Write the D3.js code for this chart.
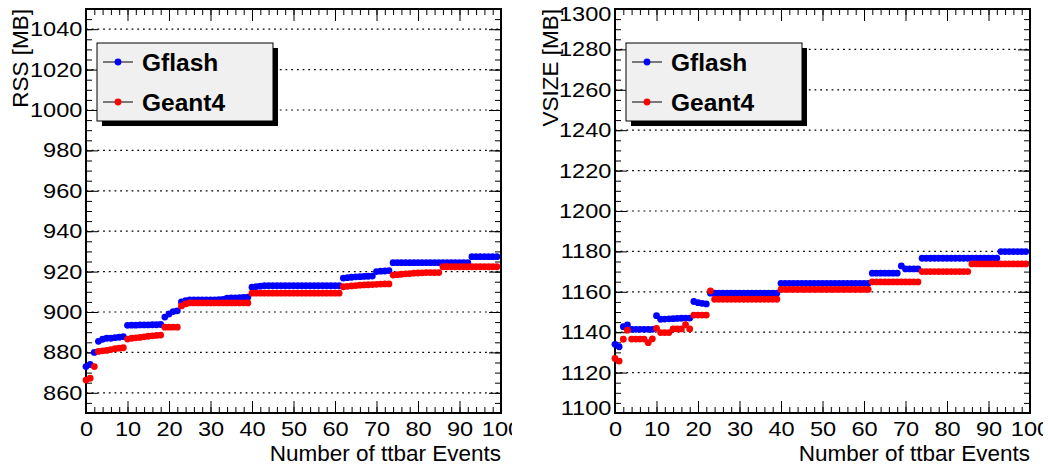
<!DOCTYPE html>
<meta charset="utf-8">
<style>
 body {
   margin: 0;
   background-color: #fff;
 }

 svg {
   font-family: "Liberation Sans", Arial, sans-serif;
 }

 .tick text {
   font-size: 20px;
   fill: #000;
 }

 .tick line {
   stroke: #000;
   stroke-width: 1;
 }

 .grid line {
   stroke: #000;
   stroke-width: 1.2;
   stroke-dasharray: 1.8, 3.9;
 }

 .frame {
   fill: none;
   stroke: #000;
   stroke-width: 2;
 }

 .title {
   font-size: 22.5px;
   fill: #000;
 }

 .legend text {
   font-size: 24.5px;
   font-weight: bold;
   fill: #000;
 }
</style>

<svg width="1048" height="467"></svg>

<script src="https://cdn.jsdelivr.net/npm/d3@7/dist/d3.min.js"></script>
<script>

 // memory after each ttbar event (event index = position in array)
 var seriesNames = ['Gflash', 'Geant4']
 var seriesColors = ['#0000ff', '#ff0000']

 var rssGflash = [
   873, 874, 880, 885.5, 886.5, 887, 887, 887.3, 887.5, 887.8,
   893.4, 893.5, 893.5, 893.6, 893.6, 893.6, 893.7, 893.7, 893.8,
   897.5, 899, 900.2, 900.6,
   905, 905.6, 906, 906, 906, 906, 906, 906, 906, 906.1, 906.2, 906.8, 907, 907, 907.1, 907.2, 907.3,
   912.3, 912.6, 912.8, 913, 913, 913, 913, 913, 913, 913, 913, 913, 913, 913, 913, 913, 913, 913, 913, 913, 913, 913,
   916.8, 917, 917.2, 917.4, 917.5, 917.6, 917.7, 917.8,
   920, 920.2, 920.3, 920.5,
   924.4, 924.4, 924.4, 924.4, 924.4, 924.4, 924.4, 924.4, 924.4, 924.4, 924.4, 924.4, 924.4, 924.4, 924.4, 924.4, 924.4, 924.4, 924.4,
   927.4, 927.4, 927.4, 927.4, 927.4, 927.4, 927.4
 ]

 var rssGeant4 = [
   866.3, 867.2, 873, 880.5, 880.8, 881, 881.4, 881.8, 882.1, 882.3,
   886.6, 887, 887.2, 887.4, 887.7, 888, 888.2, 888.4, 888.6,
   892.5, 892.5, 892.5, 892.5,
   903, 904, 904.5, 904.5, 904.5, 904.5, 904.5, 904.5, 904.5, 904.5, 904.5, 904.5, 904.5, 904.5, 904.5, 904.5, 904.5,
   909.3, 909.3, 909.3, 909.3, 909.3, 909.3, 909.3, 909.3, 909.3, 909.3, 909.3, 909.3, 909.3, 909.3, 909.3, 909.3, 909.3, 909.3, 909.3, 909.3, 909.3, 909.3,
   912.5, 912.7, 912.9, 913.1, 913.3, 913.4, 913.5, 913.6, 913.7, 913.8, 913.9, 913.9,
   918.3, 918.5, 918.7, 918.9, 919, 919.2, 919.3, 919.4, 919.5, 919.5, 919.5, 919.5,
   922.4, 922.4, 922.4, 922.4, 922.4, 922.4, 922.4, 922.4, 922.4, 922.4, 922.4, 922.4, 922.4, 922.4
 ]

 var vsizeGflash = [
   1134, 1132.8, 1142.7, 1143.6,
   1141.4, 1141.4, 1141.4, 1141.4, 1141.4, 1141.4,
   1148.2, 1146.4, 1146.5, 1146.6, 1146.7, 1146.8, 1146.9, 1147, 1147,
   1155.2, 1154.6, 1154.3, 1154,
   1159.3, 1159.3, 1159.3, 1159.3, 1159.3, 1159.3, 1159.3, 1159.3, 1159.3, 1159.3, 1159.3, 1159.3, 1159.3, 1159.3, 1159.3, 1159.3, 1159.3,
   1164.2, 1164.2, 1164.2, 1164.2, 1164.2, 1164.2, 1164.2, 1164.2, 1164.2, 1164.2, 1164.2, 1164.2, 1164.2, 1164.2, 1164.2, 1164.2, 1164.2, 1164.2, 1164.2, 1164.2, 1164.2, 1164.2,
   1169.2, 1169.2, 1169.2, 1169.2, 1169.2, 1169.2, 1169.2,
   1172.8, 1171.3, 1171.3, 1171.3, 1171.3,
   1176.6, 1176.6, 1176.6, 1176.6, 1176.6, 1176.6, 1176.6, 1176.6, 1176.6, 1176.6, 1176.6, 1176.6, 1176.6, 1176.6, 1176.6, 1176.6, 1176.6, 1176.6, 1176.6,
   1179.9, 1179.9, 1179.9, 1179.9, 1179.9, 1179.9, 1179.9
 ]

 var vsizeGeant4 = [
   1127, 1125.7, 1136.5, 1141,
   1136.6, 1136.6, 1136.6, 1136.6, 1134.8, 1136.7,
   1141.9, 1139.8, 1139.8, 1139.8, 1141.6, 1141.6, 1141.6, 1143.7, 1141.6,
   1148.5, 1148.5, 1148.5, 1148.5,
   1160.5, 1156.3, 1156.3, 1156.3, 1156.3, 1156.3, 1156.3, 1156.3, 1156.3, 1156.3, 1156.3, 1156.3, 1156.3, 1156.3, 1156.3, 1156.3, 1156.3,
   1161.2, 1161.2, 1161.2, 1161.2, 1161.2, 1161.2, 1161.2, 1161.2, 1161.2, 1161.2, 1161.2, 1161.2, 1161.2, 1161.2, 1161.2, 1161.2, 1161.2, 1161.2, 1161.2, 1161.2, 1161.2, 1161.2,
   1164.9, 1164.9, 1164.9, 1164.9, 1164.9, 1164.9, 1164.9, 1164.9, 1164.9, 1164.9, 1164.9, 1164.9,
   1170, 1170, 1170, 1170, 1170, 1170, 1170, 1170, 1170, 1170, 1170, 1170,
   1173.8, 1173.8, 1173.8, 1173.8, 1173.8, 1173.8, 1173.8, 1173.8, 1173.8, 1173.8, 1173.8, 1173.8, 1173.8, 1173.8
 ]

 var xDomain = [0, 100]
 var xTitle = 'Number of ttbar Events'

 var svg = d3.select('svg')

 drawPanel({
   id: 'rss',
   clip: [0, 512],
   left: 86, right: 501, top: 9, bottom: 413,
   yDomain: [850, 1050],
   yTitle: 'RSS [MB]',
   titleX: 28,
   series: [rssGflash, rssGeant4]
 })

 drawPanel({
   id: 'vsize',
   clip: [524, 1043],
   left: 615, right: 1030, top: 9, bottom: 413,
   yDomain: [1100, 1300],
   yTitle: 'VSIZE [MB]',
   titleX: 558,
   series: [vsizeGflash, vsizeGeant4]
 })

 function drawPanel(cfg) {
   svg.append('clipPath')
      .attr('id', 'clip-' + cfg.id)
      .append('rect')
      .attr('x', cfg.clip[0])
      .attr('y', 0)
      .attr('width', cfg.clip[1] - cfg.clip[0])
      .attr('height', 467)

   var g = svg.append('g')
              .attr('clip-path', 'url(#clip-' + cfg.id + ')')

   var x = d3.scaleLinear().domain(xDomain).range([cfg.left, cfg.right])
   var y = d3.scaleLinear().domain(cfg.yDomain).range([cfg.bottom, cfg.top])
   var fmt = d3.format('d')

   // dotted horizontal grid at the major ticks
   g.append('g')
    .attr('class', 'grid')
    .selectAll('line')
    .data(y.ticks(10))
    .join('line')
    .attr('x1', cfg.left)
    .attr('x2', cfg.right)
    .attr('y1', d => y(d))
    .attr('y2', d => y(d))

   // inward ticks on all four sides
   g.append('g')
    .attr('transform', `translate(0,${cfg.bottom})`)
    .call(d3.axisBottom(x).ticks(10, 'd').tickSize(-12).tickPadding(9))
   g.append('g')
    .attr('transform', `translate(0,${cfg.bottom})`)
    .call(d3.axisBottom(x).ticks(50).tickSize(-6).tickFormat(''))
   g.append('g')
    .attr('transform', `translate(0,${cfg.top})`)
    .call(d3.axisTop(x).ticks(10).tickSize(-12).tickFormat(''))
   g.append('g')
    .attr('transform', `translate(0,${cfg.top})`)
    .call(d3.axisTop(x).ticks(50).tickSize(-6).tickFormat(''))

   var leftAxis = g.append('g')
                   .attr('transform', `translate(${cfg.left},0)`)
                   .call(d3.axisLeft(y).ticks(10).tickFormat(fmt).tickSize(-12).tickPadding(3))
   g.append('g')
    .attr('transform', `translate(${cfg.left},0)`)
    .call(d3.axisLeft(y).ticks(40).tickSize(-6).tickFormat(''))
   g.append('g')
    .attr('transform', `translate(${cfg.right},0)`)
    .call(d3.axisRight(y).ticks(10).tickSize(-12).tickFormat(''))
   g.append('g')
    .attr('transform', `translate(${cfg.right},0)`)
    .call(d3.axisRight(y).ticks(40).tickSize(-6).tickFormat(''))

   g.selectAll('.domain').remove()
   // the tick label font in the original is a little wider than Arial
   g.selectAll('.tick text')
    .attr('font-family', null)
    .attr('font-size', null)
    .attr('transform', 'scale(1.18,1)')

   // labels at the very ends of the y range are pulled inside
   leftAxis.selectAll('.tick text')
           .attr('dy', d => d === cfg.yDomain[1] ? '0.57em' : d === cfg.yDomain[0] ? '0.08em' : '0.32em')

   g.append('rect')
    .attr('class', 'frame')
    .attr('x', cfg.left)
    .attr('y', cfg.top)
    .attr('width', cfg.right - cfg.left)
    .attr('height', cfg.bottom - cfg.top)

   // axis titles
   g.append('text')
    .attr('class', 'title')
    .attr('text-anchor', 'end')
    .attr('x', cfg.right)
    .attr('y', 461)
    .text(xTitle)

   g.append('text')
    .attr('class', 'title')
    .attr('text-anchor', 'end')
    .attr('transform', `translate(${cfg.titleX},${cfg.top}) rotate(-90)`)
    .text(cfg.yTitle)

   // markers, Gflash first then Geant4 on top
   cfg.series.forEach(function (values, i) {
     g.append('g')
      .attr('fill', seriesColors[i])
      .selectAll('circle')
      .data(values)
      .join('circle')
      .attr('cx', (d, k) => x(k))
      .attr('cy', d => y(d))
      .attr('r', 3.4)
   })

   // legend box with drop shadow
   var lx = cfg.left + 11, ly = 43, lw = 176, lh = 78
   var legend = g.append('g').attr('class', 'legend')
   legend.append('rect')
         .attr('x', lx + 5).attr('y', ly + 5)
         .attr('width', lw).attr('height', lh)
         .attr('fill', '#000')
   legend.append('rect')
         .attr('x', lx).attr('y', ly)
         .attr('width', lw).attr('height', lh)
         .attr('fill', '#f0f0f0')
         .attr('stroke', '#000')
         .attr('stroke-width', 1)

   var entry = legend.selectAll('g.entry')
                     .data(seriesNames)
                     .join('g')
                     .attr('class', 'entry')
                     .attr('transform', (d, i) => `translate(0,${62 + i * 40})`)
   entry.append('line')
        .attr('x1', lx + 6).attr('x2', lx + 36)
        .attr('stroke', '#000')
        .attr('stroke-width', 1)
   entry.append('circle')
        .attr('cx', lx + 21)
        .attr('r', 3.4)
        .attr('fill', (d, i) => seriesColors[i])
   entry.append('text')
        .attr('x', lx + 45)
        .attr('dy', '0.36em')
        .text(d => d)
 }

</script>
